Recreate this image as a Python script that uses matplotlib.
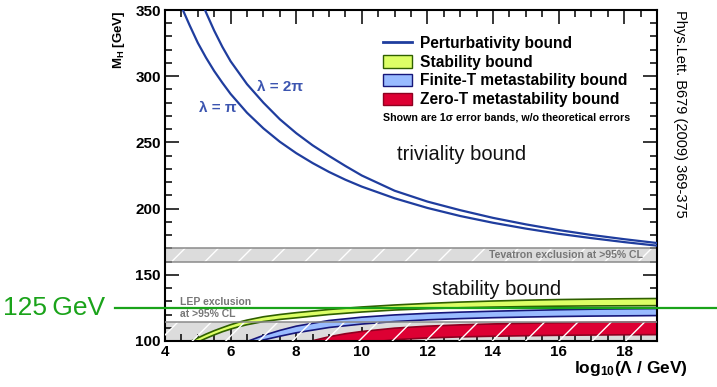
import matplotlib
matplotlib.use("Agg")
import matplotlib.pyplot as plt
import matplotlib.transforms as mtransforms
from matplotlib.lines import Line2D
from matplotlib.patches import Patch
from matplotlib.ticker import MultipleLocator

plt.rcParams['font.family'] = ['Liberation Sans', 'DejaVu Sans']
plt.rcParams['mathtext.fontset'] = 'custom'
plt.rcParams['mathtext.rm'] = 'Liberation Sans'
plt.rcParams['mathtext.bf'] = 'Liberation Sans:bold'
plt.rcParams['mathtext.it'] = 'Liberation Sans:italic'
plt.rcParams['hatch.linewidth'] = 1.0

# ---------------- data ----------------
# perturbativity (triviality) bounds
x_pert = [4.5, 4.75, 5.0, 5.25, 5.5, 5.75, 6.0, 6.5, 7.0, 7.5, 8.0, 8.5, 9.0, 9.5, 10,
          11, 12, 13, 14, 15, 16, 17, 18, 19]
mh_lam_pi = [352.5, 338.5, 325.2, 314, 303.9, 295, 286.6, 272.4, 260.6, 250.5, 241.9, 234.4,
             227.7, 221.8, 216.6, 207.8, 200.5, 194.4, 189.3, 184.9, 181, 177.7, 174.7, 172]
mh_lam_2pi = [395, 380, 364.1, 348.2, 334.4, 322.1, 311.3, 294, 280, 267.5, 257, 247.8,
              239.8, 232.2, 225, 213.5, 205.3, 198.8, 193, 188.1, 183.8, 180.1, 176.9, 174]

# stability bound band
x_stab = [4.6, 4.8, 5.0, 5.25, 5.5, 5.75, 6.0, 6.25, 6.5, 7.0, 7.5, 8.0, 9.0, 10, 11, 12,
          13, 14, 15, 16, 17, 18, 19]
stab_hi = [97.3, 100, 102.3, 105.2, 107.8, 110.1, 112.3, 114.2, 115.8, 118.3, 120.0, 121.4,
           123.8, 125.7, 127.2, 128.4, 129.4, 130.2, 130.8, 131.3, 131.6, 131.9, 132.1]
stab_lo = [96, 97.7, 99.2, 102, 104.6, 107, 109, 110.8, 112.3, 114.7, 116.3, 117.5, 120.0,
           121.9, 123.4, 124.4, 125.1, 125.6, 126.0, 126.3, 126.5, 126.6, 126.7]

# finite-T metastability band
x_ft = [6.3, 6.5, 7.0, 7.5, 8.0, 9.0, 10, 11, 12, 13, 14, 15, 16, 17, 18, 19]
ft_hi = [97.5, 99.6, 104.2, 108, 111.2, 115.5, 118, 119.7, 120.9, 121.8, 122.5, 123.1, 123.6,
         124, 124.3, 124.5]
ft_lo = [93, 95.5, 100.8, 103.6, 106.2, 110.2, 112.8, 114.7, 116, 116.9, 117.6, 118.1, 118.5,
         118.8, 119.0, 119.2]

# zero-T metastability band
x_zt = [8.3, 8.5, 9.0, 9.5, 10, 11, 12, 13, 14, 15, 16, 17, 18, 19]
zt_hi = [98.8, 100.2, 103.2, 105.5, 107.2, 109.7, 111.2, 112.2, 112.9, 113.4, 113.8, 114.1,
         114.3, 114.5]
zt_lo = [88, 89.5, 93, 96, 98.3, 101, 102.3, 103.1, 103.6, 104, 104.3, 104.5, 104.7, 104.8]

# exclusions
lep_limit = [100, 114.4]
tev_excl = [160, 170]
mh_obs = 125

x_range = [4, 19]
y_range = [100, 350]
x_ticks = [4, 6, 8, 10, 12, 14, 16, 18]
y_ticks = [100, 150, 200, 250, 300, 350]

# ---------------- style ----------------
c_pert = '#1f3d9e'
c_yel, c_yel_e = '#ddff66', '#2f6000'
c_blu, c_blu_e = '#99bbff', '#16167a'
c_red, c_red_e = '#dd0033', '#8f0020'
c_gray, c_gray_e = '#dcdcdc', '#8a8a8a'
c_green = '#1aa31a'
c_txtgray = '#777777'

fig = plt.figure(figsize=(7.17, 3.87), dpi=100)
ax = fig.add_axes([165/717, 1-341/387, (657-165)/717, (341-10)/387])
ax.set_xlim(x_range)
ax.set_ylim(y_range)

# LEP exclusion gray fill
ax.fill_between(x_range, lep_limit[0], lep_limit[1], facecolor=c_gray, edgecolor='none', zorder=1)
# Tevatron band
ax.fill_between(x_range, tev_excl[0], tev_excl[1], facecolor=c_gray, edgecolor='none', zorder=1)
ax.fill_between(x_range, tev_excl[0], tev_excl[1], facecolor='none', edgecolor='white',
                hatch='/', linewidth=0, zorder=1.5)
for yv in tev_excl:
    ax.axhline(yv, color=c_gray_e, lw=1.1, zorder=1.6)

# bands
for xs, lo, hi, fc, ec in [(x_stab, stab_lo, stab_hi, c_yel, c_yel_e),
                           (x_ft, ft_lo, ft_hi, c_blu, c_blu_e),
                           (x_zt, zt_lo, zt_hi, c_red, c_red_e)]:
    ax.fill_between(xs, lo, hi, facecolor=fc, edgecolor='none', zorder=2)
    ax.plot(xs, hi, color=ec, lw=1.2, zorder=2.2)
    ax.plot(xs, lo, color=ec, lw=1.2, zorder=2.2)

# LEP hatch overlay
ax.fill_between(x_range, lep_limit[0], lep_limit[1], facecolor='none', edgecolor='white',
                hatch='/', linewidth=0, zorder=3)
ax.axhline(lep_limit[1], color=c_gray_e, lw=1.1, zorder=3.1)

# perturbativity curves
ax.plot(x_pert, mh_lam_pi, color=c_pert, lw=1.6, zorder=4)
ax.plot(x_pert, mh_lam_2pi, color=c_pert, lw=1.6, zorder=4)

# texts in plot
ax.text(5.62, 276, 'λ = π', color='#3c55b0', fontsize=11, fontweight='bold',
        ha='center', va='center')
ax.text(7.5, 291.8, 'λ = 2π', color='#3c55b0', fontsize=11, fontweight='bold',
        ha='center', va='center')
ax.text(13.05, 241, 'triviality bound', fontsize=14.5, color='#111111', ha='center', va='center')
ax.text(14.1, 139, 'stability bound', fontsize=14.5, color='#111111', ha='center', va='center')
ax.text(18.57, 165, 'Tevatron exclusion at >95% CL', fontsize=7.6, fontweight='bold',
        color=c_txtgray, ha='right', va='center')
ax.text(4.46, 129.2, 'LEP exclusion', fontsize=7.5, fontweight='bold',
        color=c_txtgray, ha='left', va='center')
ax.text(4.46, 120.4, 'at >95% CL', fontsize=7.5, fontweight='bold',
        color=c_txtgray, ha='left', va='center')

# legend
handles = [Line2D([], [], color=c_pert, lw=2),
           Patch(facecolor=c_yel, edgecolor=c_yel_e, lw=1),
           Patch(facecolor=c_blu, edgecolor=c_blu_e, lw=1),
           Patch(facecolor=c_red, edgecolor=c_red_e, lw=1)]
labels = ['Perturbativity bound', 'Stability bound', 'Finite-T metastability bound',
          'Zero-T metastability bound']
leg = ax.legend(handles, labels, loc='upper left', bbox_to_anchor=((383-165)/492, (341-36)/331),
                frameon=False, borderpad=0, borderaxespad=0, handlelength=1.85, handleheight=0.85,
                handletextpad=0.5, labelspacing=0.24, prop={'weight': 'bold', 'size': 11.2})
leg.set_zorder(6)
ax.text((383-165)/492, (341-117)/331, 'Shown are 1σ error bands, w/o theoretical errors',
        transform=ax.transAxes, fontsize=7.7, fontweight='bold', ha='left', va='center')

# 125 GeV line
btr = mtransforms.blended_transform_factory(fig.transFigure, ax.transData)
ax.add_line(Line2D([115/717, 1.0], [mh_obs, mh_obs], transform=btr, color=c_green, lw=1.6,
                   clip_on=False, zorder=7))
fig.text(3/717, mh_obs, '125\u2009GeV', transform=btr, color=c_green, fontsize=19,
         ha='left', va='center')

# axes styling
ax.set_xticks(x_ticks)
ax.set_yticks(y_ticks)
ax.xaxis.set_minor_locator(MultipleLocator(0.5))
ax.yaxis.set_minor_locator(MultipleLocator(10))
ax.tick_params(which='both', direction='in', top=True, right=True, width=1.1)
ax.tick_params(which='major', length=10)
ax.tick_params(which='minor', length=5)
ax.tick_params(axis='x', which='major', pad=3)
ax.tick_params(axis='y', which='major', pad=3)
for lab in ax.get_xticklabels() + ax.get_yticklabels():
    lab.set_fontweight('bold')
    lab.set_fontsize(11)
for s in ax.spines.values():
    s.set_linewidth(1.5)

ax.set_ylabel('M$_{\\mathbf{H}}$ [GeV]', fontweight='bold', fontsize=9.5, loc='top')
ax.yaxis.set_label_coords((127-165)/492, 1.0)
ax.text((688-165)/492, -0.055, 'log$_{\\mathbf{10}}$(Λ / GeV)', transform=ax.transAxes,
        fontsize=12.5, fontweight='bold', ha='right', va='top')

fig.text(680/717, 1-10/387, 'Phys.Lett. B679 (2009) 369-375', rotation=-90, fontsize=10.5,
         ha='center', va='top')

fig.savefig('out.png', dpi=100)
